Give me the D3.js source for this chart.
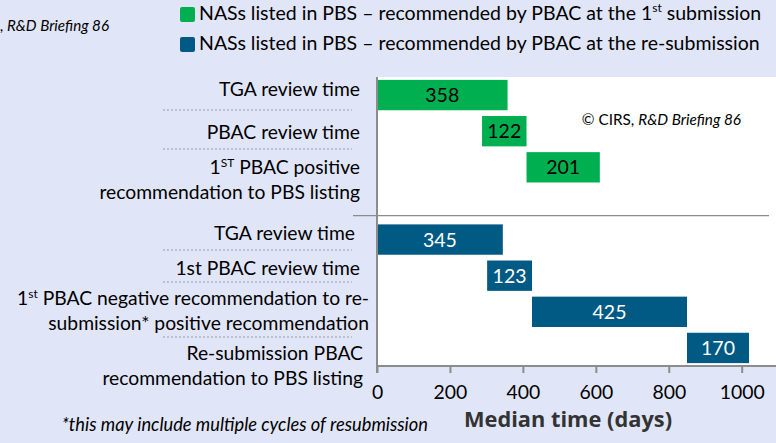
<!DOCTYPE html>
<html><head><meta charset="utf-8">
<script src="https://cdn.jsdelivr.net/npm/d3@7"></script>
<style>
html,body{margin:0;padding:0;background:#E0E6F8;}
svg{display:block;font-family:Lato,"Open Sans",sans-serif;}
</style></head>
<body>
<svg id="c" width="776" height="443"></svg>
<script>
// ---- data ----
const categories = ["tga1","pbac1","list1","gap","tga2","pbac2","neg2","list2"];
const groups = ["first","first","first",null,"resub","resub","resub","resub"];
const starts = [0, 288, 410, null, 0, 302, 425, 850];
const durations = [358, 122, 201, null, 345, 123, 425, 170];
const tickValues = [0, 200, 400, 600, 800, 1000];
const legendLabels = [
  ["NASs listed in PBS \u2013 recommended by PBAC at the 1", "st", " submission"],
  ["NASs listed in PBS \u2013 recommended by PBAC at the re-submission"]
];
const catLabels = [
  [["TGA review time"]],
  [["PBAC review time"]],
  [["1","ST"," PBAC positive"],["recommendation to PBS listing"]],
  [],
  [["TGA review time"]],
  [["1st PBAC review time"]],
  [["1","st"," PBAC negative recommendation to re-"],["submission* positive recommendation"]],
  [["Re-submission PBAC"],["recommendation to PBS listing"]]
];
const footnote = "*this may include multiple cycles of resubmission";
const axisTitle = "Median time (days)";

// ---- styles ----
const colors = {first:"#00B050", resub:"#005A84"};
const textColors = {first:"#000", resub:"#fff"};

const svg = d3.select("#c");
const W = 776, H = 443;

const x = d3.scaleLinear().domain([0, 1000]).range([377, 741.7]);
const y = d3.scaleBand().domain(categories).range([77, 366]).paddingInner(0.16).paddingOuter(0.08);

// plot area
svg.append("rect").attr("x", x(0)).attr("y", 77).attr("width", W - x(0)).attr("height", 366 - 77).attr("fill", "#fff");

// separator line between groups
const sepY = y("gap") + y.bandwidth() * 0.9;
svg.append("line").attr("x1", 353).attr("x2", 769).attr("y1", sepY).attr("y2", sepY)
  .attr("stroke", "#8c8c8c").attr("stroke-width", 1.3);

// bars
const data = categories.map((c, i) => ({c, g: groups[i], s: starts[i], v: durations[i]})).filter(d => d.g);
svg.selectAll("rect.bar").data(data).join("rect").attr("class", "bar")
  .attr("x", d => x(d.s)).attr("y", d => y(d.c))
  .attr("width", d => x(d.s + d.v) - x(d.s)).attr("height", y.bandwidth())
  .attr("fill", d => colors[d.g]);
svg.selectAll("text.val").data(data).join("text").attr("class", "val")
  .attr("x", d => (x(d.s) + x(d.s + d.v)) / 2).attr("y", d => y(d.c) + y.bandwidth() / 2)
  .attr("dy", "0.36em").attr("text-anchor", "middle").attr("font-size", 19.5)
  .attr("fill", d => textColors[d.g]).text(d => d.v);

// x axis
const axisY = 366;
const xAxis = d3.axisBottom(x).tickValues(tickValues).tickSize(7).tickPadding(12).tickFormat(d3.format("d"));
const ax = svg.append("g").attr("transform", `translate(0,${axisY})`).call(xAxis);
ax.select(".domain").attr("stroke", "#8c8c8c").attr("stroke-width", 2).attr("d", `M${x(0)},0H${W}`);
ax.selectAll(".tick line").attr("stroke", "#8c8c8c").attr("stroke-width", 2);
ax.selectAll(".tick text").attr("font-size", 19.4).attr("fill", "#000").attr("font-family", "Lato,sans-serif");
// y axis line
svg.append("line").attr("x1", x(0)).attr("x2", x(0)).attr("y1", 77).attr("y2", axisY + 7)
  .attr("stroke", "#8c8c8c").attr("stroke-width", 2);

// category labels
const labelRight = [360, 360, 360, 0, 355, 360, 369, 363];
const labelFirstBase = [96, 139, 174, 0, 240, 275, 305, 360];
const lineGap = 25;
catLabels.forEach((lines, i) => {
  lines.forEach((parts, j) => {
    const t = svg.append("text").attr("x", labelRight[i]).attr("y", labelFirstBase[i] + j * lineGap)
      .attr("text-anchor", "end").attr("font-size", 19.3).attr("fill", "#000");
    if (parts.length === 3) {
      t.append("tspan").text(parts[0]);
      t.append("tspan").attr("font-size", 12).attr("dy", -7).text(parts[1]);
      t.append("tspan").attr("dy", 7).text(parts[2]);
    } else t.text(parts[0]);
  });
});
// dotted separators under labels
const dotY = [110, 149, 250, 282, 337];
dotY.forEach(yy => svg.append("line").attr("x1", 163).attr("x2", 352).attr("y1", yy).attr("y2", yy)
  .attr("stroke", "#9a9a9a").attr("stroke-width", 1).attr("stroke-dasharray", "2,2"));

// legend
const legKeys = ["first", "resub"];
legKeys.forEach((k, i) => {
  const ly = 7 + i * 30;
  svg.append("rect").attr("x", 180).attr("y", ly).attr("width", 15).attr("height", 15).attr("rx", 2)
    .attr("fill", colors[k]);
  const t = svg.append("text").attr("x", 199).attr("y", ly + 13).attr("font-size", 19.5).attr("fill", "#000");
  const parts = legendLabels[i];
  if (parts.length === 3) {
    t.append("tspan").text(parts[0]);
    t.append("tspan").attr("font-size", 12).attr("dy", -8).text(parts[1]);
    t.append("tspan").attr("dy", 8).text(parts[2]);
  } else t.text(parts[0]);
});

// copyright notes
function copyright(xEnd, yb, size) {
  const t = svg.append("text").attr("x", xEnd).attr("y", yb).attr("text-anchor", "end").attr("font-size", size).attr("fill", "#000");
  t.append("tspan").text("\u00A9 CIRS, ");
  t.append("tspan").attr("font-style", "italic").text("R&D Briefing 86");
}
copyright(741, 125, 15.3);
copyright(109, 31, 15.2);

// footnote
svg.append("text").attr("x", 428).attr("y", 431).attr("text-anchor", "end")
  .attr("font-size", 18.3).attr("font-style", "italic").attr("fill", "#000").text(footnote);

// axis title
svg.append("text").attr("x", 568).attr("y", 427).attr("text-anchor", "middle")
  .attr("font-family", "'Open Sans',sans-serif")
  .attr("font-size", 21.8).attr("font-weight", "bold").attr("fill", "#333").text(axisTitle);
</script>
</body></html>
